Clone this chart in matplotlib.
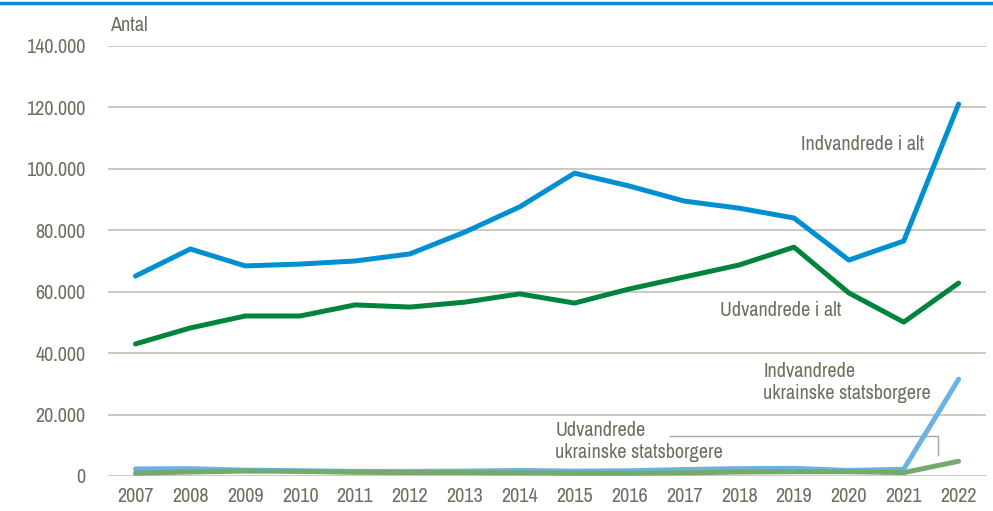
import matplotlib
matplotlib.use("Agg")
import matplotlib.pyplot as plt
from matplotlib import font_manager
from matplotlib.lines import Line2D

years = list(range(2007, 2023))
indvandrede_alt = [65100, 73900, 68400, 69000, 70000, 72300, 79400, 87600,
                   98600, 94400, 89500, 87200, 84000, 70300, 76500, 121100]
udvandrede_alt = [43000, 48200, 52100, 52100, 55700, 55000, 56600, 59300,
                  56300, 60900, 64800, 68700, 74500, 59600, 50100, 62800]
indvandrede_ukr = [2300, 2400, 1900, 1700, 1500, 1500, 1600, 1800,
                   1600, 1700, 2100, 2400, 2500, 1800, 2200, 31500]
udvandrede_ukr = [900, 1300, 1600, 1500, 1200, 1100, 1100, 1000,
                  900, 900, 1000, 1300, 1400, 1400, 1100, 4800]
yticks = [0, 20000, 40000, 60000, 80000, 100000, 120000, 140000]

TXT = "#6f6e60"
GRID = "#c3c0b4"

# the original uses a narrow Arial-like face; use one if the machine has it
names = sorted({f.name for f in font_manager.fontManager.ttflist})
narrow = [n for n in names if "Narrow" in n or "Condensed" in n]
if narrow:
    plt.rcParams["font.family"] = [narrow[0], "Liberation Sans", "DejaVu Sans"]
    FS = 14.5
else:
    plt.rcParams["font.family"] = ["Liberation Sans", "DejaVu Sans"]
    FS = 13

fig = plt.figure(figsize=(9.93, 5.11), dpi=100)
ax = fig.add_axes([0.1088, 0.0685, 0.8842, 0.8415])

ax.plot(years, indvandrede_ukr, color="#6cb2e2", lw=3.6, solid_capstyle="round", zorder=3)
ax.plot(years, udvandrede_ukr, color="#74aa6c", lw=3.6, solid_capstyle="round", zorder=4)
ax.plot(years, udvandrede_alt, color="#00843d", lw=3.6, solid_capstyle="round", zorder=5)
ax.plot(years, indvandrede_alt, color="#0090d2", lw=3.6, solid_capstyle="round", zorder=6)

ax.set_xlim(2006.5, 2022.5)
ax.set_ylim(0, 140000)
ax.set_yticks(yticks)
ax.set_yticklabels([f"{v:,}".replace(",", ".") for v in yticks])
ax.set_xticks(years)
ax.set_xticklabels([str(y) for y in years])
ax.tick_params(length=0, labelsize=FS, colors=TXT, pad=8)
ax.tick_params(axis="y", pad=16)
ax.grid(axis="y", color=GRID, lw=1.2)
ax.set_axisbelow(True)
for s in ax.spines.values():
    s.set_visible(False)

# labels on the lines
ax.text(2019.12, 107800, "Indvandrede i alt", fontsize=FS, color=TXT, va="center")
ax.text(2017.66, 54000, "Udvandrede i alt", fontsize=FS, color=TXT, va="center")
ax.text(2018.44, 30300, "Indvandrede\nukrainske statsborgere", fontsize=FS,
        color=TXT, va="center", linespacing=1.2)
ax.text(2014.65, 11100, "Udvandrede\nukrainske statsborgere", fontsize=FS,
        color=TXT, va="center", linespacing=1.2)
ax.plot([2016.74, 2021.63, 2021.63], [13000, 13000, 6800], color="#a8a69a", lw=1, zorder=2)

fig.text(0.111, 0.951, "Antal", fontsize=FS, color=TXT, va="center")
fig.add_artist(Line2D([0, 1], [0.994, 0.994], color="#0090d2", lw=2.5))

fig.savefig("out.png", dpi=100)
